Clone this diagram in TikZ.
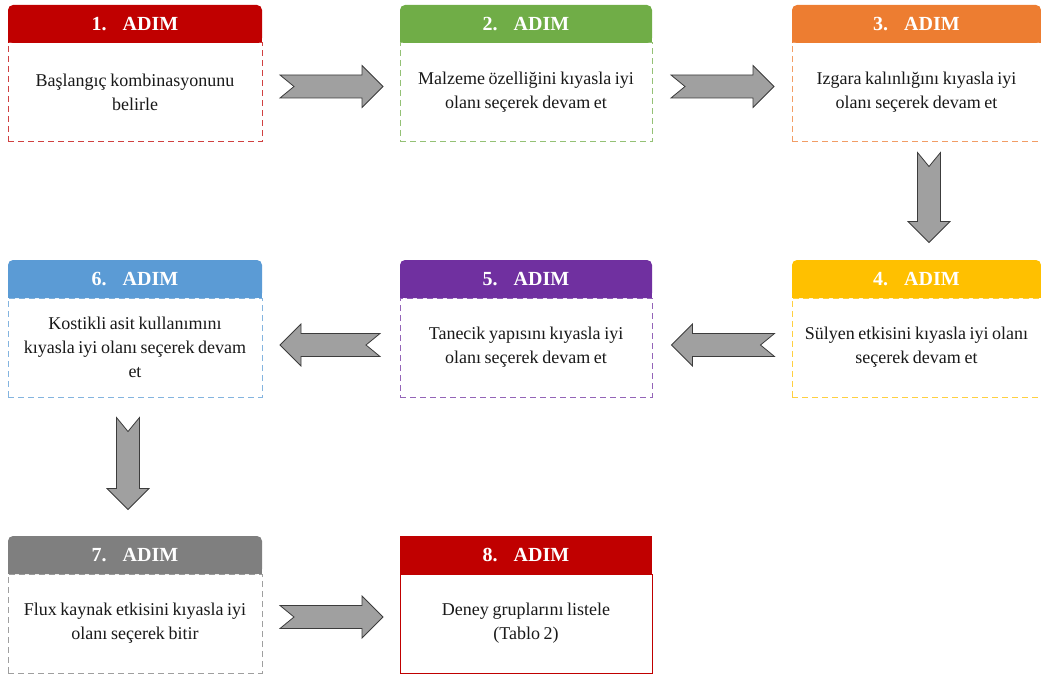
\documentclass[tikz,border=0pt]{standalone}
\usepackage{fontspec}
\setmainfont{Liberation Serif}
\usepackage{xcolor}
\definecolor{StepRed}{RGB}{192,0,0}
\definecolor{StepGreen}{RGB}{112,173,71}
\definecolor{StepOrange}{RGB}{237,125,49}
\definecolor{StepYellow}{RGB}{255,192,0}
\definecolor{StepPurple}{RGB}{112,48,160}
\definecolor{StepBlue}{RGB}{91,155,213}
\definecolor{StepGray}{RGB}{127,127,127}
\definecolor{ArrowGray}{RGB}{160,160,160}
\definecolor{ArrowEdge}{RGB}{60,60,60}
\colorlet{BodyText}{black!90}
\newcommand{\tightspace}{\spaceskip=0.2em\relax}
\usepackage{tikz}
\usetikzlibrary{
    positioning,
    calc,
    backgrounds
}
\tikzset{
    stephead/.style={
        fill=#1,
        text=white,
        font=\fontsize{20}{22}\selectfont\bfseries,
        rounded corners=5pt,
        minimum height=38pt,
        inner sep=0pt,
        outer sep=0pt
    },
    stepbody/.style={
        draw=#1!75,
        dash pattern=on 6pt off 4pt,
        line width=1pt,
        fill=white,
        text=BodyText,
        minimum height=99pt,
        text width=240pt,
        align=center,
        inner sep=0pt,
        outer sep=0pt,
        font=\fontsize{18}{24}\selectfont,
        execute at begin node=\tightspace
    },
    arrowbody/.style={
        fill=ArrowGray,
        draw=ArrowEdge,
        line width=0.8pt,
        line join=miter
    },
    pics/blockarrow/.style={
        code={
            \draw[arrowbody]
            (-#1,-11.5) -- (#1-21,-11.5) -- (#1-21,-21) -- (#1,0)
            -- (#1-21,21) -- (#1-21,11.5) -- (-#1,11.5) -- (-#1+14,0)
            -- cycle;
        }
    }
}

\begin{document}
\begin{tikzpicture}[x=1pt,y=-1pt]
%
    \useasboundingbox
    (0,0)
    rectangle
    (1041,674);
%
    % bodies first, headers sit on top of them
%
    \node[
        stepbody=StepRed,
        minimum width=254pt
    ]
    (body1) at (135,92.5) {
        Başlangıç kombinasyonunu\\belirle
    };
%
    \node[
        stepbody=StepGreen,
        minimum width=252pt
    ]
    (body2) at (526,92.5) {
        Malzeme özelliğini kıyasla iyi\\olanı seçerek devam et
    };
%
    \node[
        stepbody=StepOrange,
        minimum width=249pt
    ]
    (body3) at (916.5,92.5) {
        Izgara kalınlığını kıyasla iyi\\olanı seçerek devam et
    };
%
    \node[
        stepbody=StepYellow,
        minimum width=249pt
    ]
    (body4) at (916.5,347.5) {
        Sülyen etkisini kıyasla iyi olanı\\seçerek devam et
    };
%
    \node[
        stepbody=StepPurple,
        minimum width=252pt
    ]
    (body5) at (526,347.5) {
        Tanecik yapısını kıyasla iyi\\olanı seçerek devam et
    };
%
    \node[
        stepbody=StepBlue,
        minimum width=254pt
    ]
    (body6) at (135,347.5) {
        Kostikli asit kullanımını\\kıyasla iyi olanı seçerek devam\\et
    };
%
    \node[
        stepbody=StepGray,
        minimum width=254pt
    ]
    (body7) at (135,623.5) {
        Flux kaynak etkisini kıyasla iyi\\olanı seçerek bitir
    };
%
    \node[
        stepbody=StepRed,
        draw=StepRed,
        solid,
        minimum width=252pt
    ]
    (body8) at (526,623.5) {
        Deney gruplarını listele\\(Tablo 2)
    };
%
    % headers
%
    \node[
        stephead=StepRed,
        minimum width=254pt,
        above=0pt of body1
    ]
    (head1) {1.\hspace{16pt}ADIM};
%
    \node[
        stephead=StepGreen,
        minimum width=252pt,
        above=0pt of body2
    ]
    (head2) {2.\hspace{16pt}ADIM};
%
    \node[
        stephead=StepOrange,
        minimum width=249pt,
        above=0pt of body3
    ]
    (head3) {3.\hspace{16pt}ADIM};
%
    \node[
        stephead=StepYellow,
        minimum width=249pt,
        above=0pt of body4
    ]
    (head4) {4.\hspace{16pt}ADIM};
%
    \node[
        stephead=StepPurple,
        minimum width=252pt,
        above=0pt of body5
    ]
    (head5) {5.\hspace{16pt}ADIM};
%
    \node[
        stephead=StepBlue,
        minimum width=254pt,
        above=0pt of body6
    ]
    (head6) {6.\hspace{16pt}ADIM};
%
    \node[
        stephead=StepGray,
        minimum width=254pt,
        above=0pt of body7
    ]
    (head7) {7.\hspace{16pt}ADIM};
%
    \node[
        stephead=StepRed,
        sharp corners,
        minimum width=252pt,
        above=0pt of body8
    ]
    (head8) {8.\hspace{16pt}ADIM};
%
    % square off the lower corners of the headers
%
    \begin{scope}[on background layer]
        \fill[StepRed] (head1.west) rectangle (head1.south east);
        \fill[StepGreen] (head2.west) rectangle (head2.south east);
        \fill[StepOrange] (head3.west) rectangle (head3.south east);
        \fill[StepYellow] (head4.west) rectangle (head4.south east);
        \fill[StepPurple] (head5.west) rectangle (head5.south east);
        \fill[StepBlue] (head6.west) rectangle (head6.south east);
        \fill[StepGray] (head7.west) rectangle (head7.south east);
    \end{scope}
%
    % block arrows between the steps
%
    \pic at ($(body1.east)!0.5!(body2.west)+(0.5,-6)$) {blockarrow=51.5};
    \pic at ($(body2.east)!0.5!(body3.west)+(0.5,-6)$) {blockarrow=51.5};
    \pic[rotate=-90] at ($(body3.south)!0.5!(head4.north)+(12.5,-3.5)$) {blockarrow=45};
    \pic[rotate=180] at ($(body4.west)!0.5!(body5.east)+(1,-2.5)$) {blockarrow=51.5};
    \pic[rotate=180] at ($(body5.west)!0.5!(body6.east)+(-1,-2.5)$) {blockarrow=50};
    \pic[rotate=-90] at ($(body6.south)!0.5!(head7.north)+(-7,-3)$) {blockarrow=46};
    \pic at ($(body7.east)!0.5!(body8.west)+(0.5,-6.5)$) {blockarrow=51.5};
%
\end{tikzpicture}
\end{document}
